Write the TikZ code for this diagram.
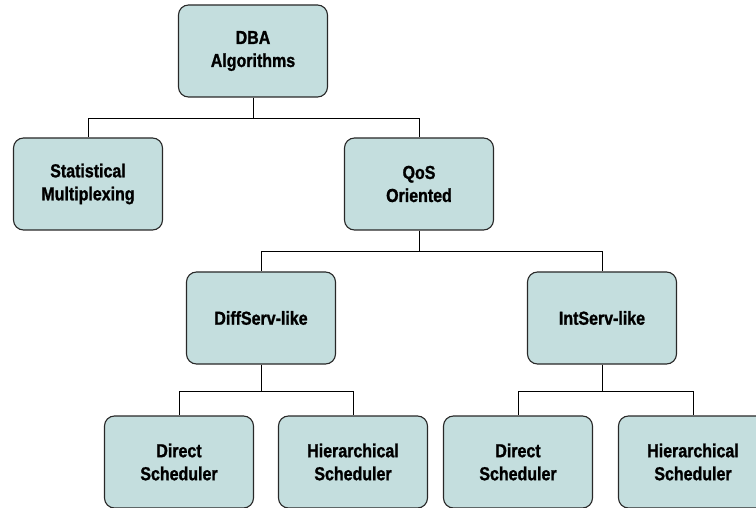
\documentclass[tikz,border=0pt]{standalone}
\usepackage{fontspec}
\setmainfont{Liberation Sans}
\newfontfamily\boxfont[FakeStretch=0.85,FakeBold=1.2]{Liberation Sans}
\definecolor{boxfill}{RGB}{196,222,222}
\definecolor{boxline}{RGB}{40,40,40}
\begin{document}
\begin{tikzpicture}[x=1pt,y=-1pt,
  treebox/.style={draw=boxline,fill=boxfill,line width=1.1pt,rounded corners=10pt,
    minimum width=149pt,minimum height=92pt,inner sep=0pt,align=center,
    font=\boxfont\fontsize{18.8}{23}\selectfont\bfseries},
  link/.style={draw=black,line width=0.9pt}]
\useasboundingbox (0,0) rectangle (756,508);
% boxes
\node[treebox] (dba)  at (253,51)  {DBA\\Algorithms};
\node[treebox] (stat) at (88,184)  {Statistical\\Multiplexing};
\node[treebox] (qos)  at (419,184) {QoS\\Oriented};
\node[treebox] (diff) at (261,318) {DiffServ-like};
\node[treebox] (ints) at (602,318) {IntServ-like};
\node[treebox] (dd)   at (179,462) {Direct\\Scheduler};
\node[treebox] (dh)   at (353,462) {Hierarchical\\Scheduler};
\node[treebox] (id)   at (518,462) {Direct\\Scheduler};
\node[treebox] (ih)   at (693,462) {Hierarchical\\Scheduler};
% elbow connectors
\draw[link] (dba.south) |- (88,118) -- (stat.north);
\draw[link] (dba.south) |- (419,118) -- (qos.north);
\draw[link] (qos.south) |- (261,251) -- (diff.north);
\draw[link] (qos.south) |- (602,251) -- (ints.north);
\draw[link] (diff.south) |- (179,391) -- (dd.north);
\draw[link] (diff.south) |- (353,391) -- (dh.north);
\draw[link] (ints.south) |- (518,391) -- (id.north);
\draw[link] (ints.south) |- (693,391) -- (ih.north);
\end{tikzpicture}
\end{document}
